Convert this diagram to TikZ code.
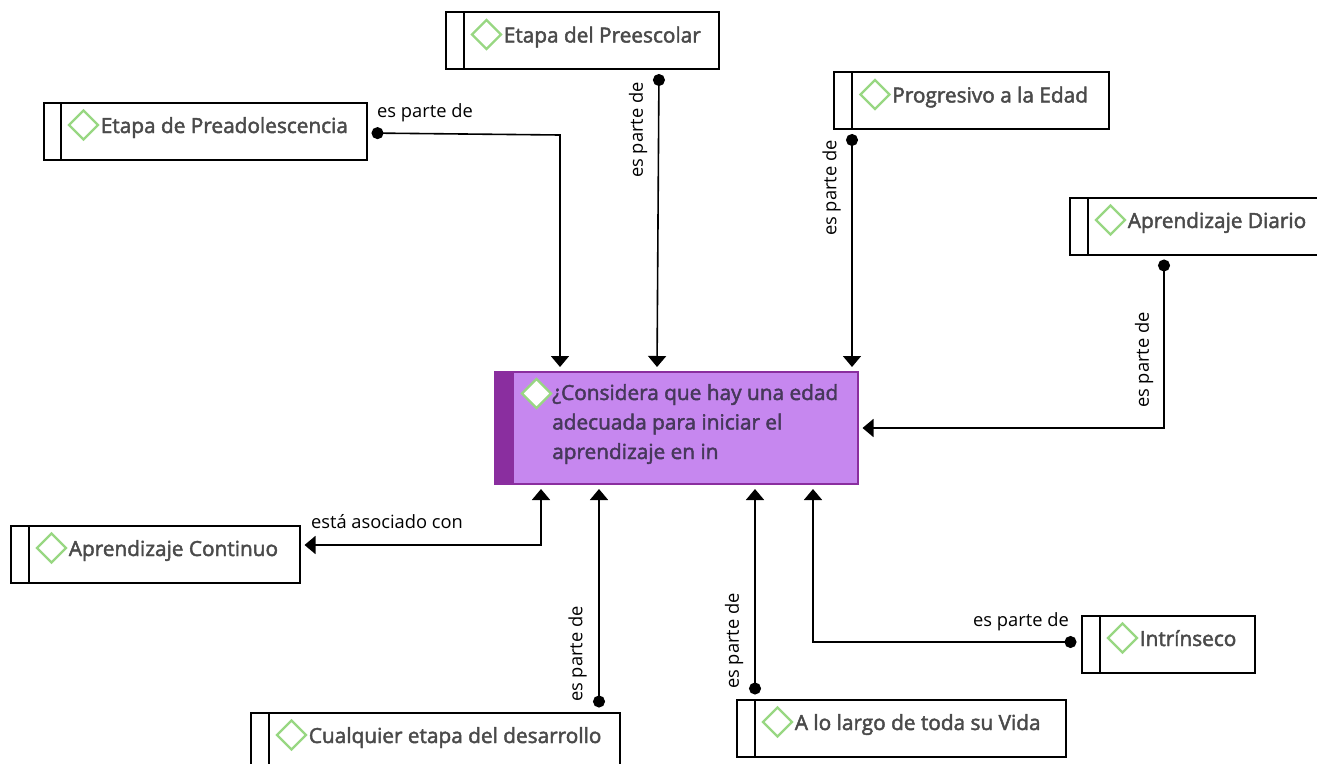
\documentclass[tikz,border=0pt]{standalone}
\usepackage{fontspec}
\setmainfont{Open Sans}
\newfontfamily\conceptfont[FakeBold=2.2]{Open Sans}
\usetikzlibrary{shapes.geometric, calc, arrows.meta, positioning}

\definecolor{markgreen}{HTML}{98D782}
\definecolor{boxtextgrey}{HTML}{4A4A4A}
\definecolor{mainfill}{HTML}{C687EF}
\definecolor{mainstrip}{HTML}{8A2E9F}
\definecolor{maintext}{HTML}{46385A}

\tikzset{
  conceptbox/.style={draw, rectangle, line width=2pt, inner sep=0pt, outer sep=0pt, minimum height=57pt},
  conceptmark/.style={draw=markgreen, fill=white, diamond, line width=2.3pt, inner sep=0pt, minimum size=30pt},
  concepttext/.style={text=boxtextgrey, inner sep=0pt, text height=19pt, text depth=3pt, font=\conceptfont\fontsize{20.8}{29.5}\selectfont},
  edgelabel/.style={inner sep=0pt, font=\fontsize{18.3}{22}\selectfont},
  link/.style={line width=1.6pt, shorten <=5pt, shorten >=5pt, -{Triangle[length=11pt,width=18pt]}},
  dotlink/.style={link, {Circle[length=12pt]}-{Triangle[length=11pt,width=18pt]}},
  bothlink/.style={link, {Triangle[length=11pt,width=18pt]}-{Triangle[length=11pt,width=18pt]}},
}

\begin{document}
\begin{tikzpicture}[x=1pt, y=-1pt]
\useasboundingbox (0,0) rectangle (1317,763);

% main question
\node[draw=mainstrip, fill=mainfill, rectangle, line width=2pt, inner sep=0pt, outer sep=0pt, minimum width=363pt, minimum height=112pt] (question) at (676,428) {};
\fill[mainstrip] (question.north west) rectangle ([xshift=19pt]question.south west);
\node[conceptmark] (questionmark) at ([shift={(42,21.5)}]question.north west) {};
\node[concepttext, text=maintext, align=left, anchor=north west, text height=, text depth=] (questiontext) at (552,384) {¿Considera que hay una edad\\adecuada para iniciar el\\aprendizaje en in};

% concept boxes
\node[conceptbox, minimum width=273pt] (preescolar) at (582,40.5) {};
\draw[line width=2pt] ([xshift=18pt]preescolar.north west) -- ([xshift=18pt]preescolar.south west);
\node[conceptmark] (preescolarmark) at ([shift={(41,22.5)}]preescolar.north west) {};
\node[concepttext, right=1pt of preescolarmark] (preescolartext) {Etapa del Preescolar};

\node[conceptbox, minimum width=275pt] (progresivo) at (971.5,100.5) {};
\draw[line width=2pt] ([xshift=18pt]progresivo.north west) -- ([xshift=18pt]progresivo.south west);
\node[conceptmark] (progresivomark) at ([shift={(41,22.5)}]progresivo.north west) {};
\node[concepttext, right=1pt of progresivomark] (progresivotext) {Progresivo a la Edad};

\node[conceptbox, minimum width=323pt] (preado) at (205,131) {};
\draw[line width=2pt] ([xshift=17pt]preado.north west) -- ([xshift=17pt]preado.south west);
\node[conceptmark] (preadomark) at ([shift={(40,22.5)}]preado.north west) {};
\node[concepttext, right=1pt of preadomark] (preadotext) {Etapa de Preadolescencia};

\node[conceptbox, minimum width=250pt] (diario) at (1194.5,226) {};
\draw[line width=2pt] ([xshift=18pt]diario.north west) -- ([xshift=18pt]diario.south west);
\node[conceptmark] (diariomark) at ([shift={(41,22.5)}]diario.north west) {};
\node[concepttext, right=1pt of diariomark] (diariotext) {Aprendizaje Diario};

\node[conceptbox, minimum width=289pt] (continuo) at (155,554) {};
\draw[line width=2pt] ([xshift=18pt]continuo.north west) -- ([xshift=18pt]continuo.south west);
\node[conceptmark] (continuomark) at ([shift={(41,22.5)}]continuo.north west) {};
\node[concepttext, right=1pt of continuomark] (continuotext) {Aprendizaje Continuo};

\node[conceptbox, minimum width=369pt] (cualquier) at (435,741) {};
\draw[line width=2pt] ([xshift=18pt]cualquier.north west) -- ([xshift=18pt]cualquier.south west);
\node[conceptmark] (cualquiermark) at ([shift={(41,22.5)}]cualquier.north west) {};
\node[concepttext, right=1pt of cualquiermark] (cualquiertext) {Cualquier etapa del desarrollo};

\node[conceptbox, minimum width=329pt] (largo) at (901,728) {};
\draw[line width=2pt] ([xshift=18pt]largo.north west) -- ([xshift=18pt]largo.south west);
\node[conceptmark] (largomark) at ([shift={(41,22.5)}]largo.north west) {};
\node[concepttext, right=1pt of largomark] (largotext) {A lo largo de toda su Vida};

\node[conceptbox, minimum width=173pt] (intrinseco) at (1168,644) {};
\draw[line width=2pt] ([xshift=18pt]intrinseco.north west) -- ([xshift=18pt]intrinseco.south west);
\node[conceptmark] (intrinsecomark) at ([shift={(41,22.5)}]intrinseco.north west) {};
\node[concepttext, right=1pt of intrinsecomark] (intrinsecotext) {Intrínseco};

% connectors
\coordinate (preadobend) at (560,135);
\coordinate (diariobend) at (1164,428);
\coordinate (continuobend) at (541,545);
\coordinate (intrinsecobend) at (813,642);
\draw[dotlink] ([yshift=-2pt]preado.east) -- (preadobend) -- (preadobend |- question.north);
\draw[dotlink] ([xshift=77pt]preescolar.south) -- ([xshift=-19pt]question.north);
\draw[dotlink] ([xshift=-119.5pt]progresivo.south) -- ([xshift=176pt]question.north);
\draw[dotlink] ([xshift=-30.5pt]diario.south) -- (diariobend) -- (question.east);
\draw[bothlink] ([yshift=9pt]continuo.east) -- (continuobend) -- (continuobend |- question.south);
\draw[dotlink] ([xshift=164pt]cualquier.north) -- ([xshift=-77pt]question.south);
\draw[dotlink] ([xshift=-146pt]largo.north) -- ([xshift=79pt]question.south);
\draw[dotlink] ([yshift=2pt]intrinseco.west) -- (intrinsecobend) -- (intrinsecobend |- question.south);

% connector labels
\node[edgelabel] (preadolabel) at (425,113) {es parte de};
\node[edgelabel, rotate=90] (preescolarlabel) at (638,130) {es parte de};
\node[edgelabel, rotate=90] (progresivolabel) at (831.5,188) {es parte de};
\node[edgelabel, rotate=90] (diariolabel) at (1144,360) {es parte de};
\node[edgelabel] (continuolabel) at (387,522) {está asociado con};
\node[edgelabel, rotate=90] (cualquierlabel) at (577.5,654) {es parte de};
\node[edgelabel, rotate=90] (largolabel) at (734,641) {es parte de};
\node[edgelabel] (intrinsecolabel) at (1021,622) {es parte de};
\end{tikzpicture}
\end{document}
